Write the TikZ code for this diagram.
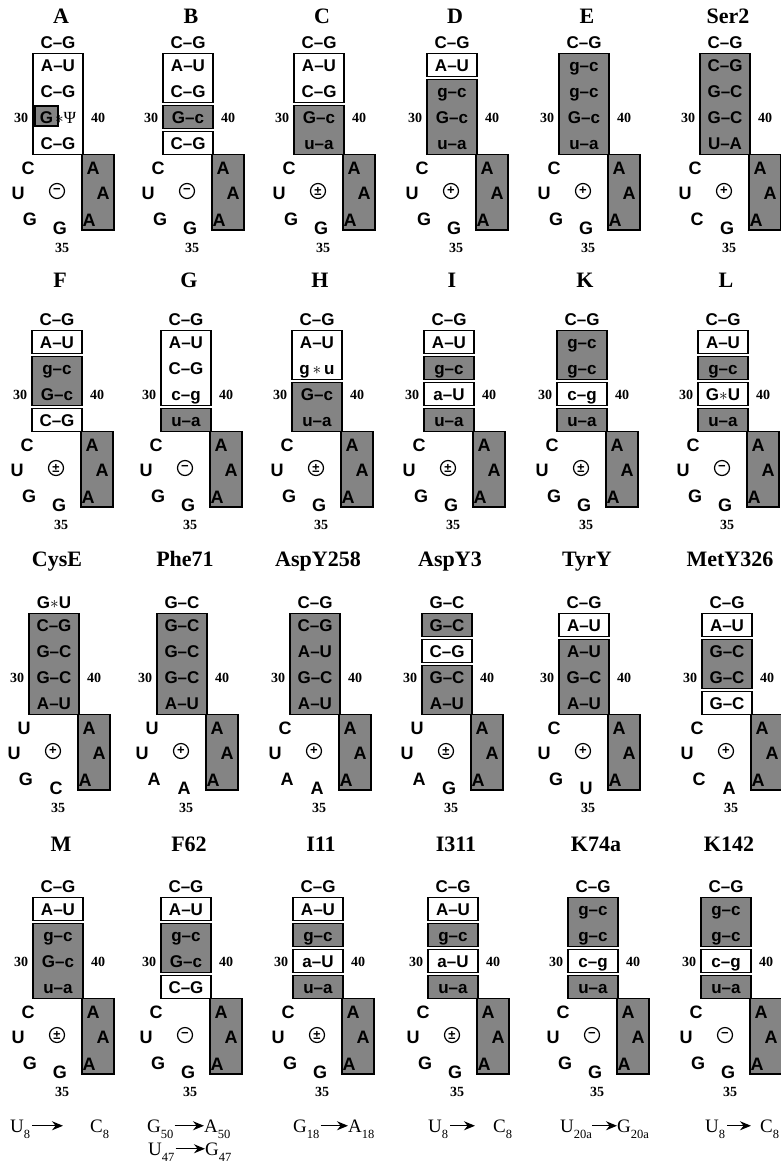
\documentclass[tikz,border=0pt]{standalone}
\usepackage{fontspec}
\setmainfont{Liberation Serif}
\newfontfamily\hv{Liberation Sans}
\usetikzlibrary{arrows.meta}
\definecolor{shade}{RGB}{132,132,132}
\tikzset{
 bp/.style={font=\hv\bfseries\fontsize{17}{17}\selectfont, inner sep=0pt, text height=12.2pt, text depth=0pt},
 lpl/.style={font=\hv\bfseries\fontsize{18}{18}\selectfont, inner sep=0pt, text height=12.9pt, text depth=0pt},
 ttl/.style={font=\bfseries\fontsize{22}{22}\selectfont, inner sep=0pt, anchor=base},
 num/.style={font=\bfseries\fontsize{14}{14}\selectfont, inner sep=0pt, text height=9.5pt, text depth=0pt},
 sgn/.style={circle, draw, line width=1.2pt, minimum size=15pt, inner sep=0pt, font=\hv\bfseries\fontsize{13}{13}\selectfont},
 wbox/.style={draw, line width=1.5pt, fill=white},
 gbox/.style={draw, line width=1.8pt, fill=shade},
 mut/.style={font=\fontsize{19}{19}\selectfont, inner sep=0pt, anchor=base west, text height=12.5pt, text depth=0pt},
 arr/.style={line width=1.2pt, -{Stealth[length=11pt,width=9pt]}},
}
\newcommand\sbs[1]{\raisebox{-0.35em}{\fontsize{12.5}{12.5}\selectfont #1}}
\newcommand\pan[3]{\begin{scope}[shift={(#1,#2)}]#3\end{scope}}
\newcommand\wb[2]{\draw[wbox] (-25,{-26*(#1-1)-1.5}) rectangle (25,{-26*#2+1.5});}
\newcommand\gb[2]{\draw[gbox] (-25,{-26*(#1-1)-1.5}) rectangle (25,{-26*#2+1.5});}
\newcommand\stem[7]{%
 \node[ttl] (#1-t) at (3,\tyoff) {#2};
 \node[bp] (#1-p0) at (0,10) {#3};
 \node[bp] (#1-p1) at (0,-13) {#4};
 \node[bp] (#1-p2) at (0,-39) {#5};
 \node[bp] (#1-p3) at (0,-65) {#6};
 \node[bp] (#1-p4) at (0,-91) {#7};
 \node[num] (#1-n30) at (-37,-66) {30};
 \node[num] (#1-n40) at (40,-66) {40};}
\newcommand\lp[6]{%
 \draw[gbox] (24,-102.5) rectangle (56,-178);
 \node[lpl] (#1-l1) at (-30,-116) {#2};
 \node[lpl] (#1-l2) at (-40,-141) {#3};
 \node[lpl] (#1-l3) at (-28,-167) {#4};
 \node[lpl] (#1-l4) at (2,-176) {#5};
 \node[lpl] (#1-a1) at (35,-116) {A};
 \node[lpl] (#1-a2) at (45,-141) {A};
 \node[lpl] (#1-a3) at (31,-168) {A};
 \node[sgn] (#1-s) at (-1,-139) {#6};
 \node[num] (#1-n35) at (4,-196) {35};}
\newcommand\mutl[8]{%
 \node[mut] (#1a) at (#2,#6) {#3};
 \node[mut] (#1b) at (#4,#6) {#5};
 \draw[arr, shorten <=#7pt, shorten >=#8pt] (#1a.east) -- (#1b.west);}
\begin{document}
\begin{tikzpicture}[x=1pt,y=1pt]
\useasboundingbox (0,0) rectangle (781,-1163);
\fill[white] (0,0) rectangle (781,-1163);
\clip (0,0) rectangle (781,-1163);
% ---------- row 1
\def\tyoff{29}
\pan{58}{-52}{\wb{1}{4}\draw[gbox] (-23,-54) rectangle (0,-74);
 \lp{A}{C}{U}{G}{G}{−}
 \stem{A}{A}{C–G}{A–U}{C–G}{G\kern2pt{\rmfamily\mdseries$\ast$Ψ}}{C–G}}
\pan{188}{-52}{\wb{1}{2}\gb{3}{3}\wb{4}{4}
 \lp{B}{C}{U}{G}{G}{−}
 \stem{B}{B}{C–G}{A–U}{C–G}{G–c}{C–G}}
\pan{319}{-52}{\wb{1}{2}\gb{3}{4}
 \lp{C}{C}{U}{G}{G}{±}
 \stem{C}{C}{C–G}{A–U}{C–G}{G–c}{u–a}}
\pan{452}{-52}{\wb{1}{1}\gb{2}{4}
 \lp{D}{C}{U}{G}{G}{+}
 \stem{D}{D}{C–G}{A–U}{g–c}{G–c}{u–a}}
\pan{584}{-52}{\gb{1}{4}
 \lp{E}{C}{U}{G}{G}{+}
 \stem{E}{E}{C–G}{g–c}{g–c}{G–c}{u–a}}
\pan{725}{-52}{\gb{1}{4}
 \lp{Ser2}{C}{U}{C}{G}{+}
 \stem{Ser2}{Ser2}{C–G}{C–G}{G–C}{G–C}{U–A}}
% ---------- row 2
\def\tyoff{42}
\pan{57}{-329}{\wb{1}{1}\gb{2}{3}\wb{4}{4}
 \lp{F}{C}{U}{G}{G}{±}
 \stem{F}{F}{C–G}{A–U}{g–c}{G–c}{C–G}}
\pan{186}{-329}{\wb{1}{3}\gb{4}{4}
 \lp{G}{C}{U}{G}{G}{−}
 \stem{G}{G}{C–G}{A–U}{C–G}{c–g}{u–a}}
\pan{317}{-329}{\wb{1}{2}\gb{3}{4}
 \lp{H}{C}{U}{G}{G}{±}
 \stem{H}{H}{C–G}{A–U}{g\,$\ast$\,u}{G–c}{u–a}}
\pan{449}{-329}{\wb{1}{1}\gb{2}{2}\wb{3}{3}\gb{4}{4}
 \lp{I}{C}{U}{G}{G}{±}
 \stem{I}{I}{C–G}{A–U}{g–c}{a–U}{u–a}}
\pan{582}{-329}{\gb{1}{2}\wb{3}{3}\gb{4}{4}
 \lp{K}{C}{U}{G}{G}{±}
 \stem{K}{K}{C–G}{g–c}{g–c}{c–g}{u–a}}
\pan{723}{-329}{\wb{1}{1}\gb{2}{2}\wb{3}{3}\gb{4}{4}
 \lp{L}{C}{U}{G}{G}{−}
 \stem{L}{L}{C–G}{A–U}{g–c}{G$\ast$U}{u–a}}
% ---------- row 3
\def\tyoff{46}
\pan{54}{-612}{\gb{1}{4}
 \lp{CysE}{U}{U}{G}{C}{+}
 \stem{CysE}{CysE}{G$\ast$U}{C–G}{G–C}{G–C}{A–U}}
\pan{182}{-612}{\gb{1}{4}
 \lp{Phe71}{U}{U}{A}{A}{+}
 \stem{Phe71}{Phe71}{G–C}{G–C}{G–C}{G–C}{A–U}}
\pan{315}{-612}{\gb{1}{4}
 \lp{AspY258}{C}{U}{A}{A}{+}
 \stem{AspY258}{AspY258}{C–G}{C–G}{A–U}{G–C}{A–U}}
\pan{447}{-612}{\gb{1}{1}\wb{2}{2}\gb{3}{4}
 \lp{AspY3}{U}{U}{A}{G}{±}
 \stem{AspY3}{AspY3}{G–C}{G–C}{C–G}{G–C}{A–U}}
\pan{584}{-612}{\wb{1}{1}\gb{2}{4}
 \lp{TyrY}{C}{U}{G}{U}{+}
 \stem{TyrY}{TyrY}{C–G}{A–U}{A–U}{G–C}{A–U}}
\pan{727}{-612}{\wb{1}{1}\gb{2}{3}\wb{4}{4}
 \lp{MetY326}{C}{U}{C}{A}{+}
 \stem{MetY326}{MetY326}{C–G}{A–U}{G–C}{G–C}{G–C}}
% ---------- row 4
\def\tyoff{45}
\pan{58}{-896}{\wb{1}{1}\gb{2}{4}
 \lp{M}{C}{U}{G}{G}{±}
 \stem{M}{M}{C–G}{A–U}{g–c}{G–c}{u–a}}
\pan{186}{-896}{\wb{1}{1}\gb{2}{3}\wb{4}{4}
 \lp{F62}{C}{U}{G}{G}{−}
 \stem{F62}{F62}{C–G}{A–U}{g–c}{G–c}{C–G}}
\pan{318}{-896}{\wb{1}{1}\gb{2}{2}\wb{3}{3}\gb{4}{4}
 \lp{I11}{C}{U}{G}{G}{±}
 \stem{I11}{I11}{C–G}{A–U}{g–c}{a–U}{u–a}}
\pan{453}{-896}{\wb{1}{1}\gb{2}{2}\wb{3}{3}\gb{4}{4}
 \lp{I311}{C}{U}{G}{G}{±}
 \stem{I311}{I311}{C–G}{A–U}{g–c}{a–U}{u–a}}
\pan{593}{-896}{\gb{1}{2}\wb{3}{3}\gb{4}{4}
 \lp{K74a}{C}{U}{G}{G}{−}
 \stem{K74a}{K74a}{C–G}{g–c}{g–c}{c–g}{u–a}}
\pan{726}{-896}{\gb{1}{2}\wb{3}{3}\gb{4}{4}
 \lp{K142}{C}{U}{G}{G}{−}
 \stem{K142}{K142}{C–G}{g–c}{g–c}{c–g}{u–a}}
% ---------- mutations
\mutl{ma}{10}{U\sbs{8}}{90}{C\sbs{8}}{-1132}{2}{27}
\mutl{fa}{147}{G\sbs{50}}{204}{A\sbs{50}}{-1132}{1}{0}
\mutl{fb}{148}{U\sbs{47}}{205}{G\sbs{47}}{-1155}{1}{0}
\mutl{ia}{293}{G\sbs{18}}{348}{A\sbs{18}}{-1132}{1}{0}
\mutl{ja}{428}{U\sbs{8}}{493}{C\sbs{8}}{-1132}{2}{18}
\mutl{ka}{560}{U\sbs{20a}}{617}{G\sbs{20a}}{-1132}{0}{0}
\mutl{kb}{705}{U\sbs{8}}{760}{C\sbs{8}}{-1132}{2}{9}
\end{tikzpicture}
\end{document}
